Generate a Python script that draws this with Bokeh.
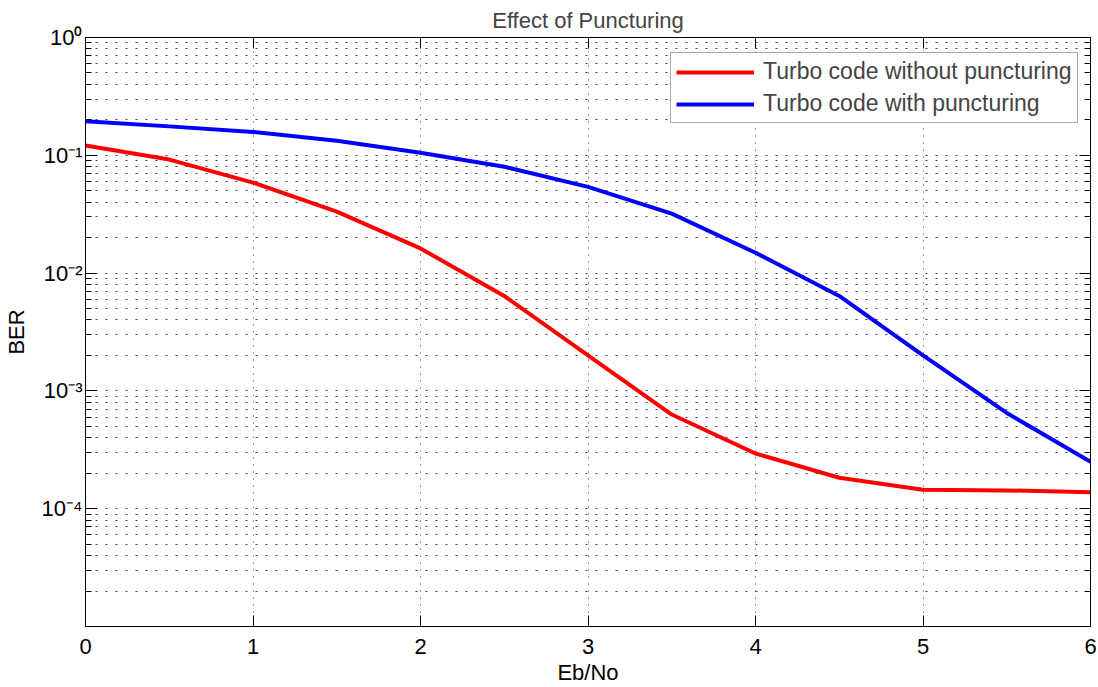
from bokeh.plotting import figure
from bokeh.models import FixedTicker, LinearAxis, LogAxis, Legend, LegendItem
from bokeh.embed import file_html
from bokeh.resources import INLINE

# ---- data ----
eb_no = [0, 0.5, 1, 1.5, 2, 2.5, 3, 3.5, 4, 4.5, 5, 5.5, 6]
ber_without_punct = [0.121, 0.092, 0.0587, 0.0333, 0.0162, 0.0064, 0.0020,
                     0.00063, 0.000294, 0.000183, 0.000145, 0.000143, 0.000138]
ber_with_punct = [0.195, 0.176, 0.158, 0.133, 0.105, 0.080, 0.054,
                  0.032, 0.0149, 0.0064, 0.0020, 0.00065, 0.00025]
series_labels = ["Turbo code without puncturing", "Turbo code with puncturing"]
title_text = "Effect of Puncturing"
x_ticks = [0, 1, 2, 3, 4, 5, 6]
y_major = [1e-5, 1e-4, 1e-3, 1e-2, 1e-1, 1e0]
y_major_labels = ["", "10\u207b\u2074", "10\u207b\u00b3", "10\u207b\u00b2", "10\u207b\u00b9", "10\u2070"]

FONT = "Liberation Sans"
y_minor = [m * d for d in [1e-5, 1e-4, 1e-3, 1e-2, 1e-1] for m in range(2, 10)]

p = figure(frame_width=1005, frame_height=589, y_axis_type="log",
           x_range=(0, 6), y_range=(1e-5, 1),
           output_backend="svg", toolbar_location=None,
           min_border_left=84, min_border_right=9, min_border_top=35, min_border_bottom=63,
           title=title_text)
p.title.align = "center"
p.title.text_font = FONT
p.title.text_font_size = "22px"
p.title.text_font_style = "normal"
p.title.standoff = 10
p.outline_line_color = "black"
p.background_fill_color = "white"

r1 = p.line(eb_no, ber_without_punct, line_color="#ff0000", line_width=4)
r2 = p.line(eb_no, ber_with_punct, line_color="#0000ff", line_width=4)

yticker = FixedTicker(ticks=y_major, minor_ticks=y_minor)
xticker = FixedTicker(ticks=x_ticks)
overrides = {t: lab for t, lab in zip(y_major, y_major_labels)}

def style_axis(ax, labels=True):
    ax.axis_line_color = "black"
    ax.major_tick_line_color = "black"
    ax.minor_tick_line_color = "black"
    ax.major_tick_in = 11
    ax.major_tick_out = 0
    ax.minor_tick_in = 6
    ax.minor_tick_out = 0
    ax.major_label_text_font = FONT
    ax.major_label_text_font_size = "22px" if labels else "0px"
    ax.major_label_text_color = "black"
    ax.axis_label_text_font = FONT
    ax.axis_label_text_font_size = "22px"
    ax.axis_label_text_font_style = "normal"
    ax.axis_label_text_color = "black"

yax = p.yaxis[0]
yax.ticker = yticker
yax.major_label_overrides = overrides
yax.axis_label = "BER"
yax.major_label_standoff = 3
yax.axis_label_standoff = 10
style_axis(yax)

xax = p.xaxis[0]
xax.ticker = xticker
xax.axis_label = "Eb/No"
xax.major_label_standoff = 12
xax.axis_label_standoff = 3
style_axis(xax)
xax.minor_tick_line_color = None

rax = LogAxis(ticker=yticker, major_label_overrides={t: "" for t in y_major})
style_axis(rax, labels=False)
rax.major_label_standoff = 0
p.add_layout(rax, "right")

tax = LinearAxis(ticker=xticker, major_label_overrides={t: "" for t in x_ticks})
style_axis(tax, labels=False)
tax.major_label_standoff = 0
tax.minor_tick_line_color = None
p.add_layout(tax, "above")

p.xgrid.ticker = xticker
p.xgrid.grid_line_color = "black"
p.xgrid.grid_line_alpha = 0.75
p.xgrid.grid_line_dash = "1 6"
p.ygrid.ticker = yticker
p.ygrid.grid_line_color = "black"
p.ygrid.grid_line_alpha = 0.75
p.ygrid.grid_line_dash = "2 8"
p.ygrid.minor_grid_line_color = "black"
p.ygrid.minor_grid_line_alpha = 0.75
p.ygrid.minor_grid_line_dash = "2 8"

legend = Legend(items=[LegendItem(label=series_labels[0], renderers=[r1]),
                       LegendItem(label=series_labels[1], renderers=[r2])],
                location=(585, 503))
legend.margin = 0
legend.padding = 5
legend.spacing = 5
legend.glyph_width = 78
legend.glyph_height = 24
legend.label_height = 24
legend.label_standoff = 9
legend.label_text_font = FONT
legend.label_text_font_size = "23px"
legend.border_line_color = "#555555"
legend.border_line_width = 1
legend.background_fill_color = "white"
legend.background_fill_alpha = 1
p.add_layout(legend, "center")

open("out.html", "w").write(file_html(p, INLINE))
